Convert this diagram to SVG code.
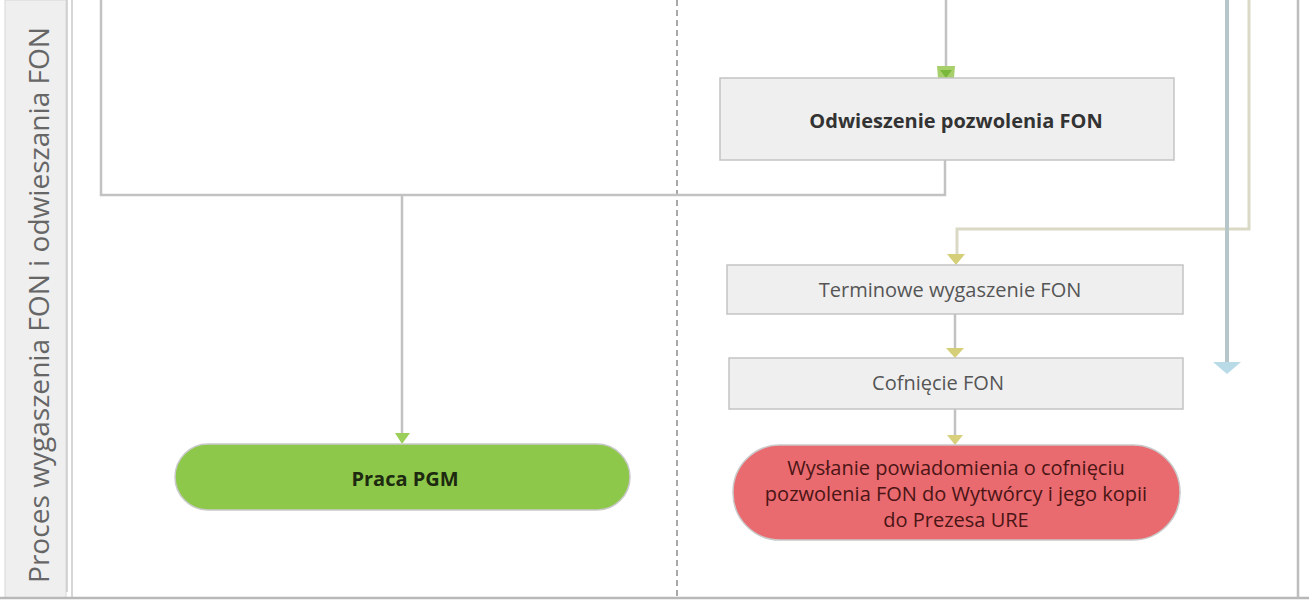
<svg xmlns="http://www.w3.org/2000/svg" width="1309" height="602" viewBox="0 0 1309 602">
<style>
.box{fill:#efefef;stroke:#c4c4c4;stroke-width:1.5}
.lbl{font-family:"Open Sans","DejaVu Sans",sans-serif;font-size:20px;fill:#333;text-anchor:middle}
.conn{fill:none;stroke:#c2c2c2;stroke-width:2.5}
.red{fill:#4a1515}
</style>
<rect x="0" y="0" width="1309" height="602" fill="#ffffff"/>
<g id="lane">
<rect x="5" y="0" width="61" height="598" fill="#efefef" stroke="#d8d8d8" stroke-width="1"/>
<line x1="67" y1="0" x2="67" y2="592" stroke="#c8c8c8" stroke-width="1.5"/>
<line x1="72" y1="0" x2="72" y2="598" stroke="#c8c8c8" stroke-width="1.5"/>
<line x1="0" y1="598" x2="1309" y2="598" stroke="#b8b8b8" stroke-width="2.5"/>
<line x1="1298" y1="0" x2="1298" y2="598" stroke="#bdbdbd" stroke-width="2.5"/>
<line x1="677" y1="0" x2="677" y2="598" stroke="#a8a8a8" stroke-width="2" stroke-dasharray="6,4"/>
<text x="0" y="0" transform="translate(49,305) rotate(-90)" font-family="'Open Sans','DejaVu Sans',sans-serif" font-size="28" fill="#666" text-anchor="middle" textLength="556" lengthAdjust="spacingAndGlyphs">Proces wygaszenia FON i odwieszania FON</text>
</g>
<g id="connectors">
<polyline class="conn" points="101,0 101,195 945,195 945,160"/>
<line class="conn" x1="402" y1="195" x2="402" y2="434"/>
<line class="conn" x1="946" y1="0" x2="946" y2="68"/>
<polyline points="1249,0 1249,229 957,229 957,256" fill="none" stroke="#d9d9c6" stroke-width="3"/>
<line x1="1227" y1="0" x2="1227" y2="362" stroke="#b7c7c9" stroke-width="4"/>
<line class="conn" x1="955" y1="314" x2="955" y2="349"/>
<line class="conn" x1="955" y1="409" x2="955" y2="436"/>
<polygon points="937,66 955,66 954,78 938,78" fill="#a7cf6a"/>
<polygon points="940,70 952,70 946,78" fill="#7ab83b"/>
<polygon points="395,433 410,433 402,444" fill="#9ccf5a"/>
<polygon points="947,254 965,254 956,265" fill="#d6cf7a"/>
<polygon points="946,348 964,348 955,358" fill="#d6cf7a"/>
<polygon points="947,435 963,435 955,445" fill="#d8d07a"/>
<polygon points="1213,362 1241,362 1227,374" fill="#b9dbe8"/>
</g>
<g id="odwieszenie">
<rect class="box" x="720" y="78" width="454" height="82"/>
<text class="lbl" x="956" y="128" font-weight="bold" font-size="21">Odwieszenie pozwolenia FON</text>
</g>
<g id="terminowe">
<rect class="box" x="727" y="265" width="456" height="49"/>
<text class="lbl" x="950" y="297" style="fill:#555">Terminowe wygaszenie FON</text>
</g>
<g id="cofniecie">
<rect class="box" x="729" y="358" width="454" height="51"/>
<text class="lbl" x="938" y="390" style="fill:#555">Cofnięcie FON</text>
</g>
<g id="wyslanie">
<rect x="733" y="445" width="447" height="95" rx="47" ry="47" fill="#e96a6f" stroke="#c9c9c9" stroke-width="1.5"/>
<text class="lbl red" x="956" y="475" style="fill:#4a1515">Wysłanie powiadomienia o cofnięciu</text>
<text class="lbl red" x="956" y="501" style="fill:#4a1515">pozwolenia FON do Wytwórcy i jego kopii</text>
<text class="lbl red" x="956" y="527" style="fill:#4a1515">do Prezesa URE</text>
</g>
<g id="praca">
<rect x="175" y="444" width="455" height="66" rx="33" ry="33" fill="#8dc84b" stroke="#c9c9c9" stroke-width="1.5"/>
<text class="lbl" x="405" y="486" font-weight="bold" font-size="24" style="fill:#1e2a10">Praca PGM</text>
</g>
</svg>
